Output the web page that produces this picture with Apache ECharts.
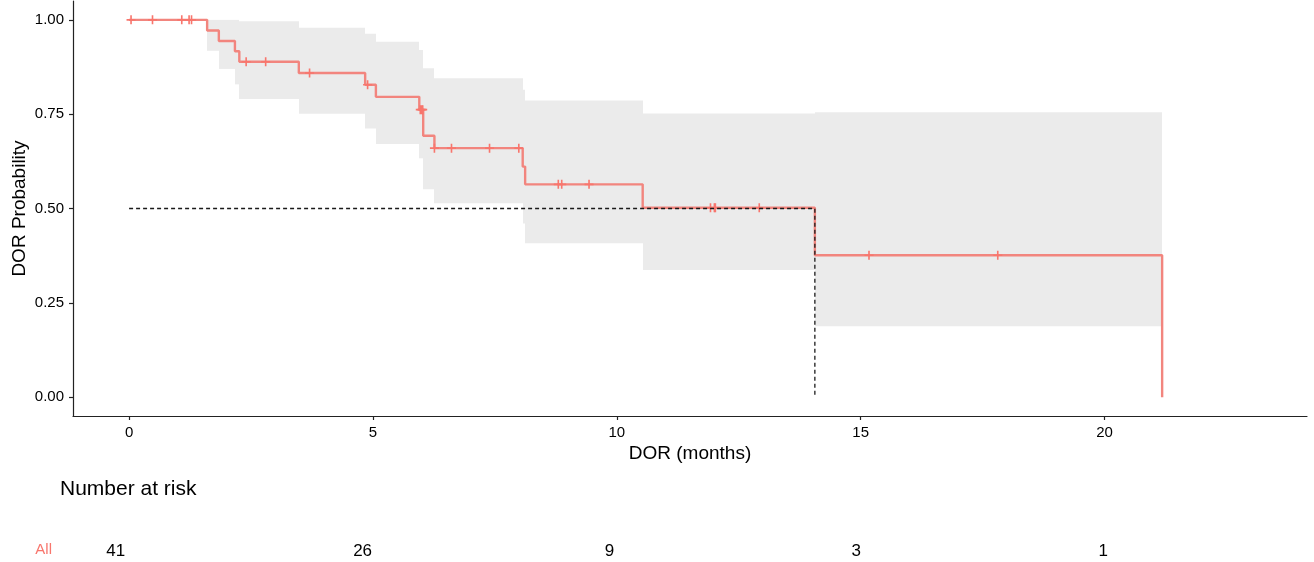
<!DOCTYPE html>
<html>
<head>
<meta charset="utf-8">
<title>DOR Kaplan-Meier</title>
<script src="https://cdn.jsdelivr.net/npm/echarts@6.0.0/dist/echarts.min.js"></script>
<style>
  html, body { margin: 0; padding: 0; background: #ffffff; }
  #chart { width: 1314px; height: 562px; }
</style>
</head>
<body>
<div id="chart"></div>
<script>
// Kaplan-Meier step curve (time in months, survival probability)
const kmTime = [0, 1.60, 1.84, 2.17, 2.26, 3.48, 4.84, 5.06, 5.95, 6.03, 6.26, 8.07, 8.12, 10.53, 14.06, 21.18, 21.18];
const kmSurv = [1.000, 0.972, 0.944, 0.917, 0.889, 0.859, 0.828, 0.796, 0.762, 0.693, 0.660, 0.611, 0.564, 0.502, 0.376, 0.376, 0.000];

// Censored observations
const censorTime = [0.04, 0.48, 1.08, 1.23, 1.28, 2.40, 2.80, 3.70, 4.89, 5.97, 6.00, 6.02, 6.26, 6.61, 7.39, 7.99, 8.80, 8.87, 9.43, 11.92, 12.00, 12.02, 12.92, 15.17, 17.81];
const censorSurv = [1.000, 1.000, 1.000, 1.000, 1.000, 0.889, 0.889, 0.859, 0.828, 0.762, 0.762, 0.762, 0.660, 0.660, 0.660, 0.660, 0.564, 0.564, 0.564, 0.502, 0.502, 0.502, 0.502, 0.376, 0.376];

// 95% confidence band, one step per interval
const bandStart = [1.60, 1.84, 2.17, 2.26, 3.48, 4.84, 5.06, 5.95, 6.03, 6.26, 8.07, 8.12, 10.53, 14.06];
const bandEnd   = [1.84, 2.17, 2.26, 3.48, 4.84, 5.06, 5.95, 6.03, 6.26, 8.07, 8.12, 10.53, 14.06, 21.18];
const bandLower = [0.918, 0.870, 0.829, 0.790, 0.751, 0.712, 0.671, 0.633, 0.551, 0.514, 0.460, 0.408, 0.337, 0.188];
const bandUpper = [1.000, 1.000, 1.000, 0.996, 0.979, 0.963, 0.942, 0.920, 0.872, 0.845, 0.815, 0.786, 0.752, 0.755];

// Median response duration
const medianTime = 14.06;
const medianSurv = 0.5;

// Number at risk table
const riskTime = [0, 5, 10, 15, 20];
const riskCount = [41, 26, 9, 3, 1];
const riskGroup = ['All'];

// Axis ticks
const xTicks = [0, 5, 10, 15, 20];
const yTicks = [0, 0.25, 0.5, 0.75, 1];

const FONT = '"Liberation Sans", Arial, sans-serif';
const RED = '#F8766D';
const AXIS = '#222222';
const X_MIN = -1.15, X_MAX = 24.15;

const chart = echarts.init(document.getElementById('chart'), null, { renderer: 'canvas' });

const plusSymbol = 'path://M4.1,0h1.8v10h-1.8zM0,4.1h10v1.8h-10z';

const option = {
  backgroundColor: '#ffffff',
  animation: false,
  textStyle: { fontFamily: FONT },
  title: {
    text: 'Number at risk',
    left: 60,
    top: 479,
    padding: 0,
    textStyle: { fontFamily: FONT, fontSize: 21, fontWeight: 'normal', color: '#000000' }
  },
  grid: [
    { left: 73, right: 7, top: 1, bottom: 146, outerBoundsMode: 'none', containLabel: false },
    { left: 59, right: 6, top: 537, height: 26, outerBoundsMode: 'none', containLabel: false }
  ],
  xAxis: [
    {
      gridIndex: 0,
      type: 'value',
      min: X_MIN,
      max: X_MAX,
      name: 'DOR (months)',
      nameLocation: 'middle',
      nameGap: 28,
      nameMoveOverlap: false,
      nameTextStyle: { fontFamily: FONT, fontSize: 19, color: '#000000' },
      axisLine: { show: true, onZero: false, lineStyle: { color: AXIS, width: 1.2 } },
      axisTick: { show: true, length: 4, customValues: xTicks, lineStyle: { color: AXIS, width: 1.2 } },
      axisLabel: { customValues: xTicks, fontFamily: FONT, fontSize: 15, color: '#000000', margin: 9 },
      splitLine: { show: false }
    },
    {
      gridIndex: 1,
      type: 'value',
      min: X_MIN,
      max: X_MAX,
      show: false
    }
  ],
  yAxis: [
    {
      gridIndex: 0,
      type: 'value',
      min: -0.05,
      max: 1.05,
      name: 'DOR Probability',
      nameLocation: 'middle',
      nameGap: 44,
      nameMoveOverlap: false,
      nameTextStyle: { fontFamily: FONT, fontSize: 19, color: '#000000' },
      axisLine: { show: true, onZero: false, lineStyle: { color: AXIS, width: 1.2 } },
      axisTick: { show: true, length: 4, customValues: yTicks, lineStyle: { color: AXIS, width: 1.2 } },
      axisLabel: {
        customValues: yTicks,
        fontFamily: FONT, fontSize: 15, color: '#000000', margin: 9,
        formatter: v => v.toFixed(2)
      },
      splitLine: { show: false }
    },
    {
      gridIndex: 1,
      type: 'category',
      data: riskGroup,
      axisLine: { show: false },
      axisTick: { show: false },
      axisLabel: { fontFamily: FONT, fontSize: 15, color: RED, margin: 7 },
      splitLine: { show: false }
    }
  ],
  series: [
    {
      // confidence band as stepped rectangles
      type: 'custom',
      xAxisIndex: 0,
      yAxisIndex: 0,
      z: 1,
      silent: true,
      data: bandStart.map((t, i) => [t, bandEnd[i], bandLower[i], bandUpper[i]]),
      renderItem: (params, api) => {
        const p0 = api.coord([api.value(0), api.value(3)]);
        const p1 = api.coord([api.value(1), api.value(2)]);
        const x0 = Math.round(p0[0]);
        const x1 = Math.round(p1[0]);
        return {
          type: 'rect',
          shape: { x: x0, y: p0[1], width: x1 - x0, height: p1[1] - p0[1] },
          style: { fill: '#EBEBEB' }
        };
      }
    },
    {
      type: 'line',
      xAxisIndex: 0,
      yAxisIndex: 0,
      z: 3,
      step: 'end',
      symbol: 'none',
      silent: true,
      data: kmTime.map((t, i) => [t, kmSurv[i]]),
      lineStyle: { color: '#F2857E', width: 2.4 }
    },
    {
      type: 'scatter',
      xAxisIndex: 0,
      yAxisIndex: 0,
      z: 4,
      silent: true,
      symbol: plusSymbol,
      symbolSize: 9,
      data: censorTime.map((t, i) => [t, censorSurv[i]]),
      itemStyle: { color: RED, opacity: 1 }
    },
    {
      // median reference lines
      type: 'line',
      xAxisIndex: 0,
      yAxisIndex: 0,
      z: 5,
      symbol: 'none',
      silent: true,
      data: [[0, medianSurv], [medianTime, medianSurv], [medianTime, 0]],
      lineStyle: { color: '#1a1a1a', width: 1.3, type: [4, 3] }
    },
    {
      type: 'scatter',
      xAxisIndex: 1,
      yAxisIndex: 1,
      silent: true,
      symbol: 'circle',
      symbolSize: 1,
      itemStyle: { color: '#ffffff', opacity: 1 },
      data: riskTime.map((t, i) => [t, 0, riskCount[i]]),
      label: {
        show: true,
        position: 'inside',
        offset: [0, 1],
        formatter: p => String(p.value[2]),
        fontFamily: FONT,
        fontSize: 17,
        color: '#000000',
        textBorderWidth: 0,
        opacity: 1
      }
    }
  ]
};

chart.setOption(option);
</script>
</body>
</html>
